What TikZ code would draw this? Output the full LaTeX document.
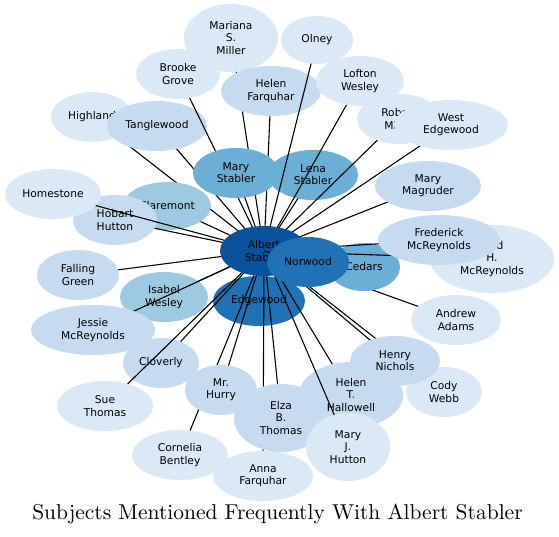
\documentclass[tikz,border=0pt]{standalone}
\usepackage{fontspec}
\usepackage{graphicx}
\newfontfamily\lblfont{DejaVu Sans}
\usetikzlibrary{shapes.geometric}
\definecolor{cA}{HTML}{DBE9F6}
\definecolor{cB}{HTML}{C6DBEF}
\definecolor{cC}{HTML}{9ECAE1}
\definecolor{cD}{HTML}{6BAED6}
\definecolor{cE}{HTML}{2171B5}
\definecolor{cF}{HTML}{08519C}
\tikzset{
  subj/.style={ellipse, draw=none, inner sep=0pt, align=center, text=black,
    font=\lblfont\fontsize{10.7}{12.3}\selectfont},
  edge/.style={draw=black, line width=1.1pt},
}
% #1 name, #2 x, #3 y, #4 width, #5 height, #6 colour, #7 text
\newcommand\subjnode[7]{%
  \coordinate (#1c) at (#2,#3);
  \draw[edge] (#1c) -- (albc);
  \node[subj, fill=#6, minimum width=#4pt, minimum height=#5pt] (#1) at (#1c) {#7};
}
\begin{document}
\begin{tikzpicture}[x=1pt,y=-1pt]
\useasboundingbox (0,0) rectangle (559,537);
\coordinate (albc) at (264,251);
\subjnode{edgewood}{259}{301}{92}{50}{cE}{Edgewood}
\subjnode{highland}{92}{117}{82}{50}{cA}{Highland}
\subjnode{tanglewood}{157}{126}{100}{50}{cB}{Tanglewood}
\subjnode{mariana}{231}{38}{94}{68}{cA}{Mariana\\S.\\Miller}
\subjnode{brooke}{178}{74}{84}{50}{cA}{Brooke\\Grove}
\subjnode{helenf}{271}{91}{100}{50}{cB}{Helen\\Farquhar}
\subjnode{marys}{236}{173}{86}{50}{cD}{Mary\\Stabler}
\subjnode{lena}{313}{175}{90}{50}{cD}{Lena\\Stabler}
\subjnode{olney}{317}{40}{72}{48}{cA}{Olney}
\subjnode{lofton}{360}{81}{88}{50}{cA}{Lofton\\Wesley}
\subjnode{robert}{399}{119}{84}{50}{cA}{Robert\\Miller}
\subjnode{westedge}{451}{125}{114}{50}{cA}{West\\Edgewood}
\subjnode{magruder}{428}{186}{106}{50}{cB}{Mary\\Magruder}
\subjnode{andrew}{456}{320}{90}{50}{cA}{Andrew\\Adams}
\subjnode{cedars}{364}{267}{72}{48}{cD}{Cedars}
\subjnode{fredh}{492}{259}{124}{68}{cA}{Fred\\H.\\McReynolds}
\subjnode{frederick}{439}{240}{122}{50}{cB}{Frederick\\McReynolds}
\subjnode{claremont}{167}{206}{88}{48}{cC}{Claremont}
\subjnode{hobart}{115}{220}{84}{50}{cB}{Hobart\\Hutton}
\subjnode{homestone}{53}{194}{96}{50}{cA}{Homestone}
\subjnode{falling}{78}{275}{82}{50}{cB}{Falling\\Green}
\subjnode{isabel}{164}{297}{88}{50}{cC}{Isabel\\Wesley}
\subjnode{jessie}{93}{330}{124}{50}{cB}{Jessie\\McReynolds}
\subjnode{cloverly}{161}{363}{76}{50}{cB}{Cloverly}
\subjnode{sue}{105}{406}{96}{50}{cA}{Sue\\Thomas}
\subjnode{cornelia}{180}{455}{96}{50}{cA}{Cornelia\\Bentley}
\subjnode{hurry}{221}{390}{72}{50}{cB}{Mr.\\Hurry}
\subjnode{anna}{263}{476}{100}{50}{cA}{Anna\\Farquhar}
\subjnode{elza}{281}{418}{94}{68}{cB}{Elza\\B.\\Thomas}
\subjnode{helent}{351}{395}{104}{66}{cB}{Helen\\T.\\Hallowell}
\subjnode{maryj}{348}{447}{84}{68}{cA}{Mary\\J.\\Hutton}
\subjnode{cody}{444}{392}{76}{50}{cA}{Cody\\Webb}
\subjnode{henry}{395}{361}{90}{50}{cB}{Henry\\Nichols}
\node[subj, fill=cF, minimum width=88pt, minimum height=50pt] (albert) at (albc) {Albert\\Stabler};
\subjnode{norwood}{308}{262}{82}{50}{cE}{Norwood}
\node[anchor=base, inner sep=0pt] (title) at (277.5,519) {\scalebox{2.15}{\fontsize{10}{12}\selectfont Subjects Mentioned Frequently With Albert Stabler}};
\end{tikzpicture}
\end{document}
